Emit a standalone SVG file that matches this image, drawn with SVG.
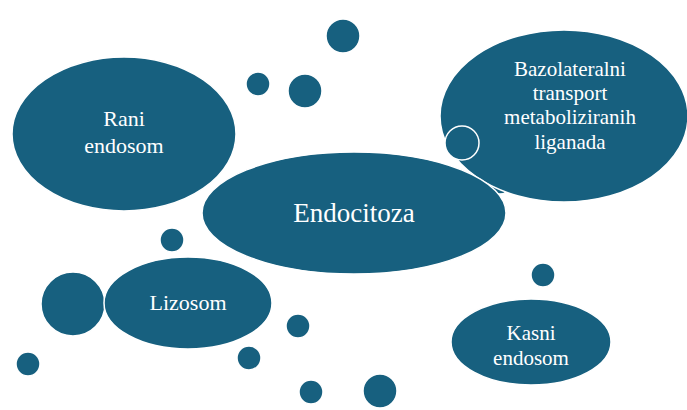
<svg xmlns="http://www.w3.org/2000/svg" width="687" height="410" viewBox="0 0 687 410">
<style>
.s{fill:#17607f;stroke:#fff;stroke-width:1.5}
.t{fill:#fff;text-anchor:middle}
</style>
<rect width="687" height="410" fill="#fff"/>
<g id="bubbles">
<circle class="s" cx="343" cy="36" r="17"/>
<circle class="s" cx="258" cy="84" r="12"/>
<circle class="s" cx="305" cy="91" r="17"/>
<circle class="s" cx="172" cy="240" r="12"/>
<circle class="s" cx="298" cy="326" r="12"/>
<circle class="s" cx="249" cy="358" r="12"/>
<circle class="s" cx="28" cy="364" r="12"/>
<circle class="s" cx="311" cy="392" r="12"/>
<circle class="s" cx="380" cy="391" r="17"/>
<circle class="s" cx="543" cy="275" r="12"/>
<circle class="s" cx="500" cy="183" r="11"/>
</g>
<g font-family="Liberation Serif, DejaVu Serif, serif">
<g id="rani">
<ellipse class="s" cx="124" cy="134" rx="112" ry="77"/>
<text class="t" font-size="22" x="124" y="126">Rani</text>
<text class="t" font-size="22" x="124" y="153">endosom</text>
</g>
<g id="bazolateralni">
<ellipse class="s" cx="564" cy="116" rx="124" ry="86"/>
<text class="t" font-size="21" x="570" y="76">Bazolateralni</text>
<text class="t" font-size="21" x="570" y="100">transport</text>
<text class="t" font-size="21" x="570" y="124">metaboliziranih</text>
<text class="t" font-size="21" x="570" y="149">liganada</text>
<circle class="s" cx="462" cy="143" r="17" stroke-width="2.5"/>
</g>
<g id="endocitoza">
<ellipse class="s" cx="354" cy="213" rx="152" ry="61" stroke-width="2"/>
<text class="t" font-size="27" x="354" y="222">Endocitoza</text>
</g>
<g id="lizosom">
<circle class="s" cx="73" cy="304" r="32"/>
<ellipse class="s" cx="188" cy="303" rx="84" ry="46" stroke-width="2"/>
<text class="t" font-size="22" x="188" y="310">Lizosom</text>
</g>
<g id="kasni">
<ellipse class="s" cx="531" cy="342" rx="80" ry="43"/>
<text class="t" font-size="21" x="531" y="340">Kasni</text>
<text class="t" font-size="21" x="531" y="365">endosom</text>
</g>
</g>
<g id="connectors"></g>
</svg>
